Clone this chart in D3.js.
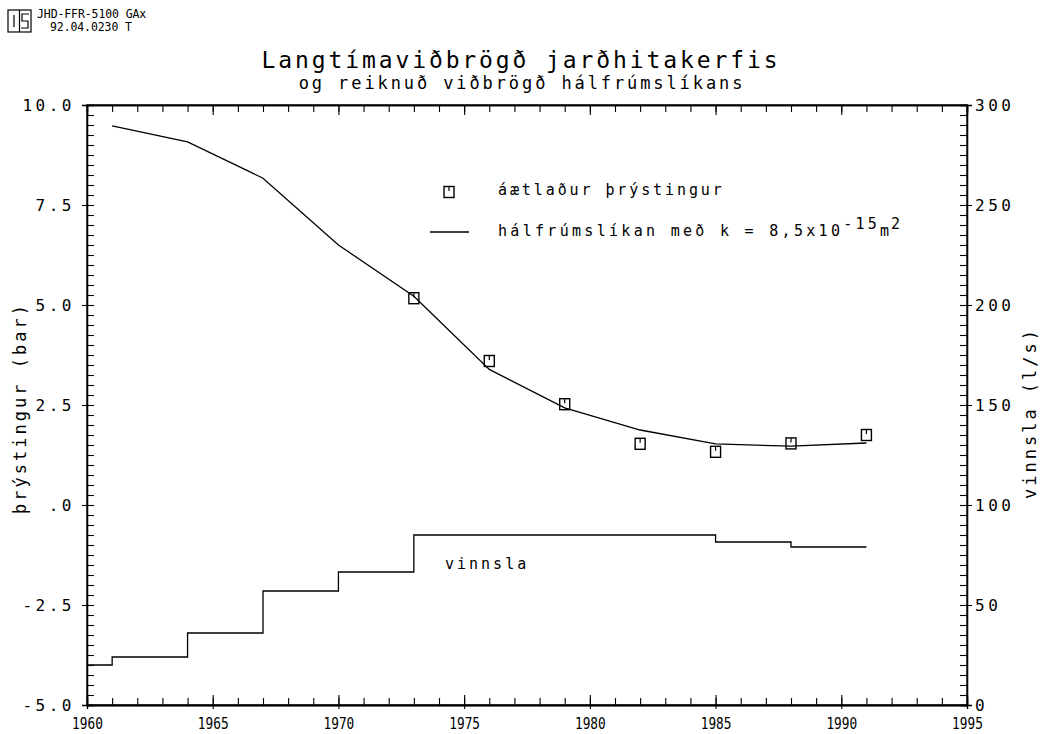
<!DOCTYPE html>
<html><head><meta charset="utf-8">
<script src="https://cdn.jsdelivr.net/npm/d3@7"></script>
<style>
body{margin:0;background:#fff;}
svg text{font-family:"DejaVu Sans Mono",monospace;fill:#000;}
</style></head>
<body><svg id="c" width="1046" height="734"></svg>
<script>
// ---- data ----
const xTickYears = [1960,1965,1970,1975,1980,1985,1990,1995];
const xTickLabels = ["1960","1965","1970","1975","1980","1985","1990","1995"];
const leftTickValues = [-5,-2.5,0,2.5,5,7.5,10];
const leftTickLabels = ["-5.0","-2.5",".0","2.5","5.0","7.5","10.0"];
const rightTickValues = [0,50,100,150,200,250,300];
const rightTickLabels = ["0","50","100","150","200","250","300"];

// estimated pressure (bar)
const obsYears = [1973,1976,1979,1982,1985,1988,1991];
const obsPressure = [5.17,3.6,2.52,1.53,1.33,1.54,1.75];
// half-space model (bar)
const modelYears = [1961,1964,1967,1970,1973,1976,1979,1982,1985,1988,1991];
const modelPressure = [9.48,9.08,8.17,6.5,5.22,3.39,2.43,1.875,1.53,1.47,1.55];
// production (l/s), step function
const prodYears = [1960,1961,1964,1967,1970,1973,1985,1988,1991];
const prodValues = [20,24,36,57,66.5,85,81.5,79,79];

const svg = d3.select("#c");
const X0=87, X1=967, Y0=705, Y1=105;
const x = d3.scaleLinear().domain([1960,1995]).range([X0,X1]);
const yL = d3.scaleLinear().domain([-5,10]).range([Y0,Y1]);
const yR = d3.scaleLinear().domain([0,300]).range([Y0,Y1]);

function styleAxis(g){
  g.selectAll("path").attr("stroke","#000").attr("stroke-width",1.3);
  g.selectAll("line").attr("stroke","#000").attr("stroke-width",1.1);
  g.selectAll("text").attr("font-family","DejaVu Sans Mono").attr("fill","#000");
}
// frame
svg.append("rect").attr("x",X0).attr("y",Y1).attr("width",X1-X0).attr("height",Y0-Y1)
  .attr("fill","none").attr("stroke","#000").attr("stroke-width",1.3);

const years = d3.range(1960,1996,1);
// bottom: inner ticks
svg.append("g").attr("transform",`translate(0,${Y0})`)
  .call(d3.axisTop(x).tickValues(years).tickSize(7).tickFormat("")).call(styleAxis);
svg.append("g").attr("transform",`translate(0,${Y0})`)
  .call(d3.axisTop(x).tickValues(xTickYears).tickSize(10).tickFormat("")).call(styleAxis);
svg.append("g").attr("transform",`translate(0,${Y0})`)
  .call(d3.axisBottom(x).tickValues(xTickYears).tickSize(4)
    .tickFormat((d,i)=>xTickLabels[i])).call(styleAxis)
  .call(g=>g.selectAll("text").attr("font-size",16).attr("y",24).attr("dy",0)
    .attr("transform","scale(0.8,1)"));
// top inner ticks
svg.append("g").attr("transform",`translate(0,${Y1})`)
  .call(d3.axisBottom(x).tickValues(years).tickSize(7).tickFormat("")).call(styleAxis);
svg.append("g").attr("transform",`translate(0,${Y1})`)
  .call(d3.axisBottom(x).tickValues(xTickYears).tickSize(10).tickFormat("")).call(styleAxis);

// left axis
svg.append("g").attr("transform",`translate(${X0},0)`)
  .call(d3.axisRight(yL).tickValues(d3.range(-5,10.001,0.25)).tickSize(7).tickFormat("")).call(styleAxis);
svg.append("g").attr("transform",`translate(${X0},0)`)
  .call(d3.axisLeft(yL).tickValues(leftTickValues).tickSize(5).tickPadding(7)
    .tickFormat((d,i)=>leftTickLabels[i])).call(styleAxis)
  .call(g=>g.selectAll("text").attr("font-size",16).attr("letter-spacing",3.5));
// right axis
svg.append("g").attr("transform",`translate(${X1},0)`)
  .call(d3.axisLeft(yR).tickValues(d3.range(0,300.001,5)).tickSize(7).tickFormat("")).call(styleAxis);
svg.append("g").attr("transform",`translate(${X1},0)`)
  .call(d3.axisRight(yR).tickValues(rightTickValues).tickSize(5).tickPadding(3)
    .tickFormat((d,i)=>rightTickLabels[i])).call(styleAxis)
  .call(g=>g.selectAll("text").attr("font-size",16).attr("letter-spacing",3.5));

// axis titles
svg.append("text").attr("transform","translate(26,408) rotate(-90)")
  .attr("text-anchor","middle").attr("font-size",17).attr("letter-spacing",3)
  .text("þrýstingur (bar)");
svg.append("text").attr("transform","translate(1036,413) rotate(-90)")
  .attr("text-anchor","middle").attr("font-size",17).attr("letter-spacing",3)
  .text("vinnsla (l/s)");

// titles
svg.append("text").attr("x",521).attr("y",68).attr("text-anchor","middle")
  .attr("font-size",23).attr("letter-spacing",2.9).text("Langtímaviðbrögð jarðhitakerfis");
svg.append("text").attr("x",522).attr("y",89).attr("text-anchor","middle")
  .attr("font-size",17).attr("letter-spacing",2.9).text("og reiknuð viðbrögð hálfrúmslíkans");

// header
const hdr = svg.append("g").attr("fill","none").attr("stroke","#000").attr("stroke-width",1.2);
hdr.append("rect").attr("x",8).attr("y",10).attr("width",23).attr("height",22);
hdr.append("line").attr("x1",19.5).attr("y1",10).attr("x2",19.5).attr("y2",32);
hdr.append("line").attr("x1",14).attr("y1",15).attr("x2",14).attr("y2",27);
hdr.append("path").attr("d","M29,14 H22 V21 H28 V28 H21");
svg.append("text").attr("x",37).attr("y",18).attr("font-size",11.5).attr("letter-spacing",-0.1)
  .text("JHD-FFR-5100 GAx");
svg.append("text").attr("x",50).attr("y",31).attr("font-size",11.5).attr("letter-spacing",-0.1)
  .text("92.04.0230 T");

// model line
svg.append("path").datum(modelYears.map((d,i)=>[d,modelPressure[i]]))
  .attr("fill","none").attr("stroke","#000").attr("stroke-width",1.3)
  .attr("d",d3.line().x(d=>x(d[0])).y(d=>yL(d[1])));

// production step line
svg.append("path").datum(prodYears.map((d,i)=>[d,prodValues[i]]))
  .attr("fill","none").attr("stroke","#000").attr("stroke-width",1.3)
  .attr("d",d3.line().curve(d3.curveStepAfter).x(d=>x(d[0])).y(d=>yR(d[1])));
svg.append("text").attr("x",445).attr("y",569).attr("font-size",15).attr("letter-spacing",3)
  .text("vinnsla");

// markers
function marker(g,cx,cy){
  g.append("rect").attr("x",cx-5).attr("y",cy-5.5).attr("width",10).attr("height",11)
    .attr("fill","none").attr("stroke","#000").attr("stroke-width",1.4);
  g.append("line").attr("x1",cx).attr("x2",cx).attr("y1",cy-5.5).attr("y2",cy-1)
    .attr("stroke","#000").attr("stroke-width",1.2);
}
const mg = svg.append("g");
obsYears.forEach((d,i)=>marker(mg,x(d),yL(obsPressure[i])));

// legend
marker(svg.append("g"),449,192);
svg.append("text").attr("x",498).attr("y",195).attr("font-size",15).attr("letter-spacing",2.9)
  .text("áætlaður þrýstingur");
svg.append("line").attr("x1",430).attr("x2",469).attr("y1",232).attr("y2",232)
  .attr("stroke","#000").attr("stroke-width",1.3);
const lt = svg.append("text").attr("x",498).attr("y",236).attr("font-size",15).attr("letter-spacing",3.3);
lt.append("tspan").text("hálfrúmslíkan með k = 8,5x10");
lt.append("tspan").attr("dy",-7).attr("letter-spacing",3.2).text("-15");
lt.append("tspan").attr("dy",7).attr("letter-spacing",2).text("m");
lt.append("tspan").attr("dy",-7).text("2");
</script></body></html>
